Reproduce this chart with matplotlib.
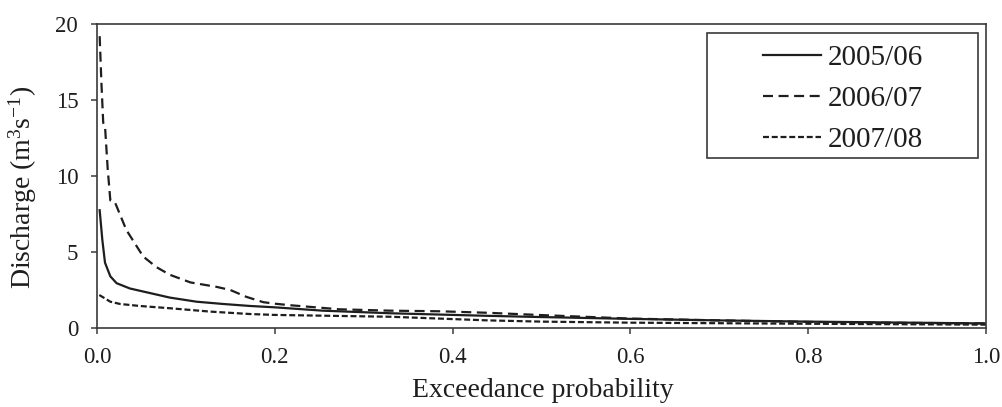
import matplotlib
matplotlib.use("Agg")
import matplotlib.pyplot as plt
from matplotlib.patches import Rectangle

plt.rcParams["font.family"] = ["Liberation Serif", "DejaVu Serif"]
plt.rcParams["mathtext.fontset"] = "custom"
plt.rcParams["mathtext.rm"] = "Liberation Serif"
plt.rcParams["mathtext.it"] = "Liberation Serif:italic"
plt.rcParams["lines.scale_dashes"] = False

# Flow duration curves: exceedance probability vs discharge (m3/s)
p_0506 = [0.003, 0.006, 0.009, 0.015, 0.022, 0.037, 0.052, 0.082, 0.112, 0.142,
          0.172, 0.20, 0.254, 0.33, 0.44, 0.50, 0.60, 0.70, 0.80, 0.90, 1.00]
q_0506 = [7.75, 5.8, 4.3, 3.4, 2.95, 2.6, 2.4, 2.0, 1.73, 1.58,
          1.45, 1.36, 1.14, 0.97, 0.80, 0.72, 0.60, 0.50, 0.42, 0.36, 0.30]

p_0607 = [0.003, 0.005, 0.007, 0.009, 0.012, 0.015, 0.02, 0.033, 0.052, 0.067,
          0.082, 0.105, 0.135, 0.15, 0.168, 0.187, 0.20, 0.217, 0.273, 0.33,
          0.386, 0.44, 0.50, 0.60, 0.70, 0.80, 0.90, 1.00]
q_0607 = [19.2, 16.1, 13.5, 13.3, 10.5, 8.4, 8.3, 6.45, 4.7, 4.0,
          3.5, 3.0, 2.7, 2.5, 2.05, 1.7, 1.6, 1.5, 1.23, 1.14,
          1.1, 1.0, 0.85, 0.62, 0.50, 0.40, 0.34, 0.30]

p_0708 = [0.0026, 0.015, 0.026, 0.048, 0.082, 0.127, 0.172, 0.20, 0.33, 0.44,
          0.50, 0.60, 0.80, 1.00]
q_0708 = [2.17, 1.73, 1.58, 1.45, 1.30, 1.08, 0.92, 0.86, 0.74, 0.50,
          0.42, 0.35, 0.28, 0.22]

labels = ["2005/06", "2006/07", "2007/08"]
x_ticks = [0.0, 0.2, 0.4, 0.6, 0.8, 1.0]
y_ticks = [0, 5, 10, 15, 20]

ink = "#1e1e1e"
frame = "#3a3a3a"

fig = plt.figure(figsize=(10.02, 4.07), dpi=100)
ax = fig.add_axes([0.0968, 0.1941, 0.8872, 0.7469])

ax.plot(p_0506, q_0506, color=ink, lw=1.6, ls="-", label=labels[0])
ax.plot(p_0607, q_0607, color=ink, lw=1.6, ls=(0, (7.2, 4.0)), label=labels[1])
ax.plot(p_0708, q_0708, color=ink, lw=1.6, ls=(0, (4.3, 2.0)), label=labels[2])

ax.set_xlim(0, 1.0)
ax.set_ylim(0, 20)
ax.set_xticks(x_ticks)
ax.set_xticklabels([f"{v:.1f}" for v in x_ticks])
ax.set_yticks(y_ticks)
ax.set_yticklabels([str(v) for v in y_ticks])
ax.tick_params(direction="out", length=4.5, width=1.1, color=frame,
               labelsize=16.5, labelcolor=ink, pad=9)
for s in ax.spines.values():
    s.set_color(frame)
    s.set_linewidth(1.2)

ax.set_xlabel("Exceedance probability", fontsize=20, color=ink)
ax.xaxis.set_label_coords(0.502, -0.164)
ax.set_ylabel("Discharge (m$^{3}$s$^{-1}$)", fontsize=20, color=ink)
ax.yaxis.set_label_coords(-0.065, 0.464)

leg = ax.legend(loc="center", bbox_to_anchor=(843 / 1002, 1 - 99 / 407),
                bbox_transform=fig.transFigure, frameon=False, fontsize=21,
                handlelength=2.0, handletextpad=0.25, labelspacing=0.5)
for t in leg.get_texts():
    t.set_color(ink)
fig.add_artist(Rectangle((707 / 1002, 1 - 158 / 407), 271 / 1002, 125 / 407,
                         transform=fig.transFigure, fill=False,
                         edgecolor=frame, lw=1.2))

fig.savefig("out.png", dpi=100)
